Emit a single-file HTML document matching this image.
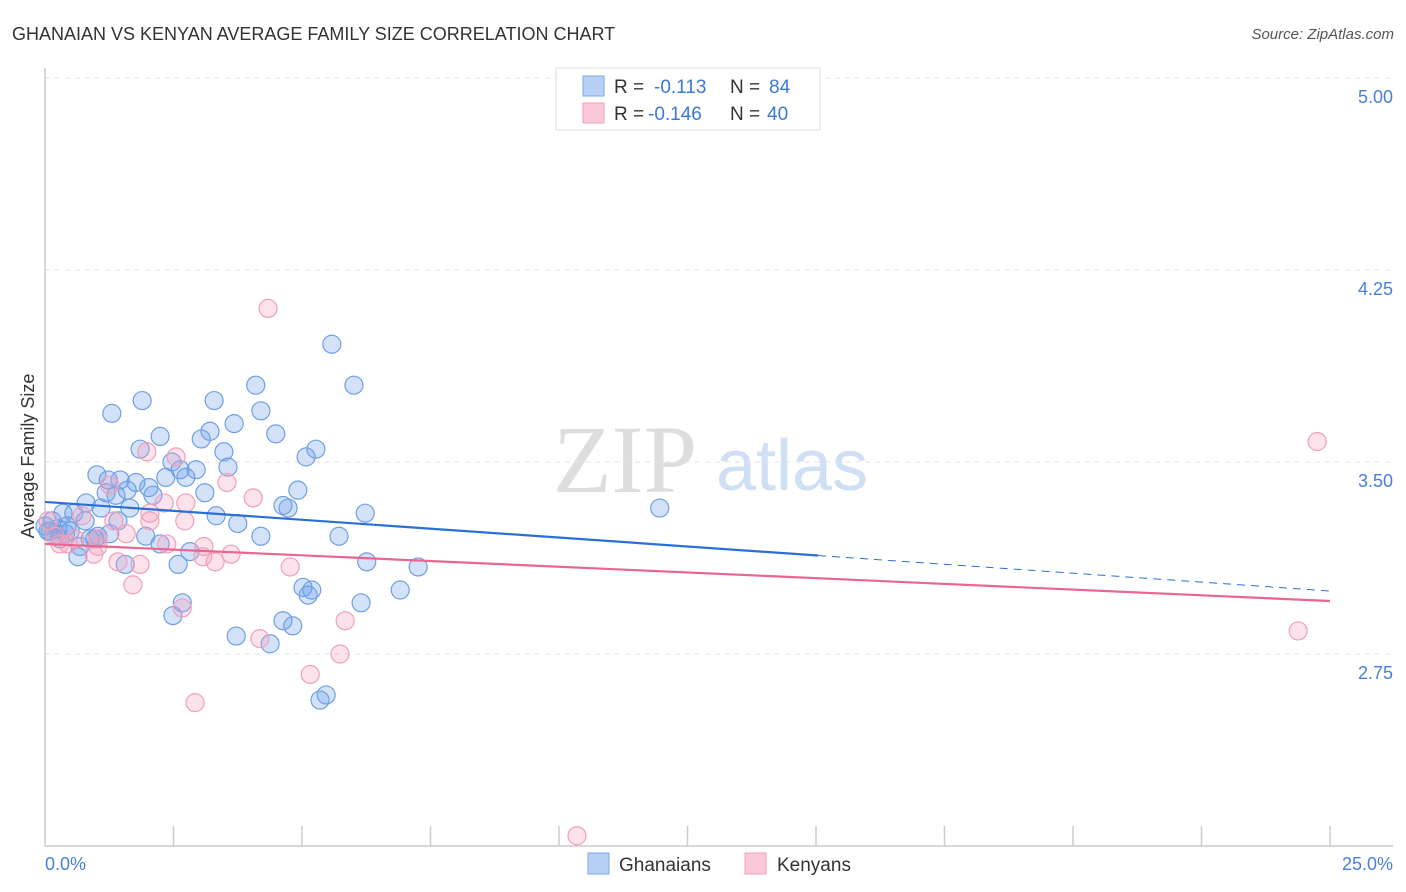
<!DOCTYPE html>
<html><head><meta charset="utf-8">
<style>
body{margin:0;background:#fff;font-family:"Liberation Sans",sans-serif;}
svg{display:block}
</style></head>
<body>
<svg id="chart" width="1406" height="892" xmlns="http://www.w3.org/2000/svg" font-family="Liberation Sans, sans-serif">
<text x="12" y="40" font-size="18" fill="#333">GHANAIAN VS KENYAN AVERAGE FAMILY SIZE CORRELATION CHART</text>
<text x="1394" y="39" font-size="15" fill="#555" font-style="italic" text-anchor="end">Source: ZipAtlas.com</text>
<g>
<text x="553" y="492" font-size="96" font-family="Liberation Serif, serif" fill="#ddd">ZIP</text>
<text x="716" y="490" font-size="72" fill="#cfe0f5">atlas</text>
</g>
<g id="grid"></g>
<line x1="45" y1="68" x2="45" y2="846" stroke="#ccc" stroke-width="1.5"/>
<line x1="45" y1="846" x2="1393" y2="846" stroke="#ccc" stroke-width="1.5"/>
<g id="xticks"></g>
<text transform="translate(34,456) rotate(-90)" font-size="18" fill="#333" text-anchor="middle">Average Family Size</text>
<text x="45" y="870" font-size="18" fill="#4a7fd8">0.0%</text>
<text x="1393" y="870" font-size="18" fill="#4a7fd8" text-anchor="end">25.0%</text>
<g id="points"></g>
<g id="trends"></g>
<g>
<rect x="556" y="68" width="264" height="62" fill="#fff" stroke="#ddd"/>
<rect x="583" y="76" width="21" height="20" fill="#b8d0f5" stroke="#7aa6e6"/>
<rect x="583" y="103" width="21" height="20" fill="#fac8d8" stroke="#f0a0b8"/>
<text x="614" y="93" font-size="19" fill="#333">R = </text><text x="654" y="93" font-size="19" fill="#3b78d8">-0.113</text>
<text x="730" y="93" font-size="19" fill="#333">N = </text><text x="769" y="93" font-size="19" fill="#3b78d8">84</text>
<text x="614" y="120" font-size="19" fill="#333">R = </text><text x="648" y="120" font-size="19" fill="#3b78d8">-0.146</text>
<text x="730" y="120" font-size="19" fill="#333">N = </text><text x="767" y="120" font-size="19" fill="#3b78d8">40</text>
</g>
<g>
<rect x="588" y="853" width="21" height="21" fill="#b8d0f5" stroke="#7aa6e6"/>
<text x="619" y="871" font-size="19" fill="#333">Ghanaians</text></g>
<g>
<rect x="745" y="853" width="21" height="21" fill="#fac8d8" stroke="#f0a0b8"/>
<text x="777" y="871" font-size="19" fill="#333">Kenyans</text></g>
</svg>
<script>
const yTicks=[5.00,4.25,3.50,2.75];
const yTickLabels=["5.00","4.25","3.50","2.75"];
const xTicks=[2.5,5,7.5,10,12.5,15,17.5,20,22.5,25];
const blueX=[5.58,4.10,6.01,1.89,3.29,1.30,4.20,3.68,3.21,4.49,2.24,3.04,1.85,3.48,5.27,5.08,2.47,3.56,2.94,2.63,1.01,2.74,2.35,1.77,1.46,1.23,2.02,4.92,1.60,3.11,2.10,1.38,1.19,0.80,4.63,4.73,6.23,11.96,1.09,1.65,0.35,0.56,3.33,1.42,3.75,0.43,0.25,0.10,4.20,5.72,1.96,1.03,0.88,0.68,2.24,0.19,2.82,0.64,1.56,6.26,2.59,7.26,6.91,5.02,5.19,5.12,2.67,2.49,6.15,4.63,4.82,3.72,4.38,5.47,5.35,0.14,0.06,0.29,0.49,0.78,0.0,0.97,1.26,0.4];
const blueY=[3.96,3.80,3.80,3.74,3.74,3.69,3.70,3.65,3.62,3.61,3.60,3.59,3.55,3.54,3.55,3.52,3.50,3.48,3.47,3.47,3.45,3.44,3.44,3.42,3.43,3.43,3.40,3.39,3.39,3.38,3.37,3.37,3.38,3.34,3.33,3.32,3.30,3.32,3.32,3.32,3.30,3.30,3.29,3.27,3.26,3.25,3.24,3.23,3.21,3.21,3.21,3.21,3.20,3.17,3.18,3.21,3.15,3.13,3.10,3.11,3.10,3.09,3.00,3.01,3.00,2.98,2.95,2.90,2.95,2.88,2.86,2.82,2.79,2.59,2.57,3.27,3.23,3.20,3.23,3.27,3.25,3.20,3.22,3.22];
const pinkX=[4.34,2.55,1.98,3.54,1.26,4.05,2.74,2.32,2.04,0.72,1.34,1.58,1.03,0.45,0.95,1.42,1.85,1.03,2.37,3.09,3.62,3.07,3.31,4.77,1.71,2.67,5.84,4.18,5.74,5.16,2.92,10.35,24.75,24.38,0.06,0.19,0.58,0.29,2.72,2.04];
const pinkY=[4.10,3.52,3.54,3.42,3.41,3.36,3.34,3.34,3.30,3.29,3.27,3.22,3.20,3.18,3.14,3.11,3.10,3.17,3.18,3.17,3.14,3.13,3.11,3.09,3.02,2.93,2.88,2.81,2.75,2.67,2.56,2.04,3.58,2.84,3.27,3.21,3.20,3.18,3.27,3.27];
const blueTrend=[3.344,2.996];
const pinkTrend=[3.18,2.957];
const blueSolidEnd=15.04;

const NS="http://www.w3.org/2000/svg";
const sx=v=>45+v*51.4;
const sy=v=>78+(5-v)*256;
function mk(tag,attrs,parent){const e=document.createElementNS(NS,tag);for(const k in attrs)e.setAttribute(k,attrs[k]);parent.appendChild(e);return e;}
const grid=document.getElementById('grid');
yTicks.forEach((t,i)=>{
  const l=mk('line',{x1:45,x2:1393,y1:sy(t),y2:sy(t),stroke:'#e2e2e2','stroke-dasharray':'5,5'},grid);
  
  
  const tx=mk('text',{x:1393,y:sy(t)+25,'font-size':18,fill:'#4a7fd8','text-anchor':'end'},grid);
  tx.textContent=yTickLabels[i];
  
  
});
const xt=document.getElementById('xticks');
xTicks.forEach(t=>{
  const l=mk('line',{x1:sx(t),x2:sx(t),y1:826,y2:846,stroke:'#ccc','stroke-width':1.5},xt);
  
  
});
const pts=document.getElementById('points');
blueX.forEach((x,i)=>{
  const c=mk('circle',{cx:sx(x),cy:sy(blueY[i]),r:9,fill:'rgba(110,160,235,0.3)',stroke:'#6f9fe3','stroke-width':1.2},pts);
  
  
});
pinkX.forEach((x,i)=>{
  const c=mk('circle',{cx:sx(x),cy:sy(pinkY[i]),r:9,fill:'rgba(245,160,190,0.3)',stroke:'#f0a0b8','stroke-width':1.2},pts);
  
  
});
const tr=document.getElementById('trends');
const by=x=>blueTrend[0]+(blueTrend[1]-blueTrend[0])*x/25;
const py=x=>pinkTrend[0]+(pinkTrend[1]-pinkTrend[0])*x/25;
const b1=mk('line',{x1:sx(0),y1:sy(by(0)),x2:sx(blueSolidEnd),y2:sy(by(blueSolidEnd)),stroke:'#2a6fd6','stroke-width':2.2},tr);


const b2=mk('line',{x1:sx(blueSolidEnd),y1:sy(by(blueSolidEnd)),x2:sx(25),y2:sy(by(25)),stroke:'#2a6fd6','stroke-width':1,'stroke-dasharray':'8,6'},tr);


const p1=mk('line',{x1:sx(0),y1:sy(py(0)),x2:sx(25),y2:sy(py(25)),stroke:'#e8668f','stroke-width':2.2},tr);


</script>
</body></html>
